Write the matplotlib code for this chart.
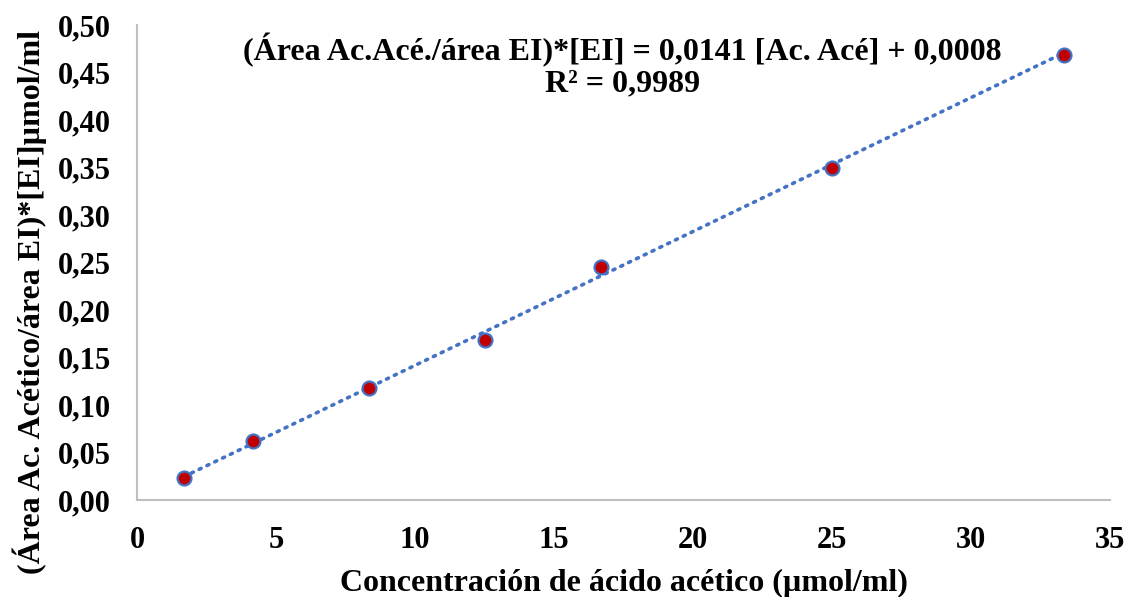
import matplotlib.pyplot as plt
import numpy as np

# Calibration data
conc = [1.67, 4.17, 8.33, 12.5, 16.67, 25.0, 33.33]
ratio = [0.023, 0.062, 0.118, 0.168, 0.245, 0.349, 0.468]
slope, intercept = 0.0141, 0.0008

x_ticks = [0, 5, 10, 15, 20, 25, 30, 35]
y_ticks = [0.00, 0.05, 0.10, 0.15, 0.20, 0.25, 0.30, 0.35, 0.40, 0.45, 0.50]

plt.rcParams['font.family'] = ['Liberation Serif', 'DejaVu Serif']
plt.rcParams['font.weight'] = 'bold'

fig = plt.figure(figsize=(11.33, 5.97), dpi=100)
ax = fig.add_axes([0.121, 0.1625, 0.859, 0.7955])

# Trendline (dotted)
xl = np.array([conc[0], conc[-1]])
ax.plot(xl, slope * xl + intercept, linestyle=(0, (0.6, 1.8)), dash_capstyle='round',
        color='#4472C4', linewidth=2.6, zorder=2)

ax.plot(conc, ratio, 'o', markersize=10, markerfacecolor='#C00000',
        markeredgecolor='#4472C4', markeredgewidth=1.6, zorder=3)

ax.set_xlim(0, 35)
ax.set_ylim(0, 0.5)
ax.set_xticks(x_ticks)
ax.set_yticks(y_ticks)
ax.set_xticklabels([str(t) for t in x_ticks])
ax.set_yticklabels([f'{t:.2f}'.replace('.', ',') for t in y_ticks])
ax.tick_params(length=0, labelsize=22)
ax.tick_params(axis='x', pad=19)
ax.tick_params(axis='y', pad=19)
for lbl in ax.get_xticklabels() + ax.get_yticklabels():
    lbl.set_fontweight('bold')

for s in ['top', 'right']:
    ax.spines[s].set_visible(False)
for s in ['left', 'bottom']:
    ax.spines[s].set_color('#BFBFBF')
    ax.spines[s].set_linewidth(1.5)

ax.set_xlabel('Concentración de ácido acético (µmol/ml)', fontsize=23, fontweight='bold', labelpad=10)
ax.set_ylabel('(Área Ac. Acético/área EI)*[EI]µmol/ml', fontsize=23, fontweight='bold')
ax.yaxis.set_label_coords(-0.0925, 0.417)

fig.text(0.5495, 1 - 33 / 597, '(Área Ac.Acé./área EI)*[EI] = 0,0141 [Ac. Acé] + 0,0008\nR² = 0,9989',
         ha='center', va='top', fontsize=23, fontweight='bold', linespacing=1.1)

fig.savefig('out.png', dpi=100)
